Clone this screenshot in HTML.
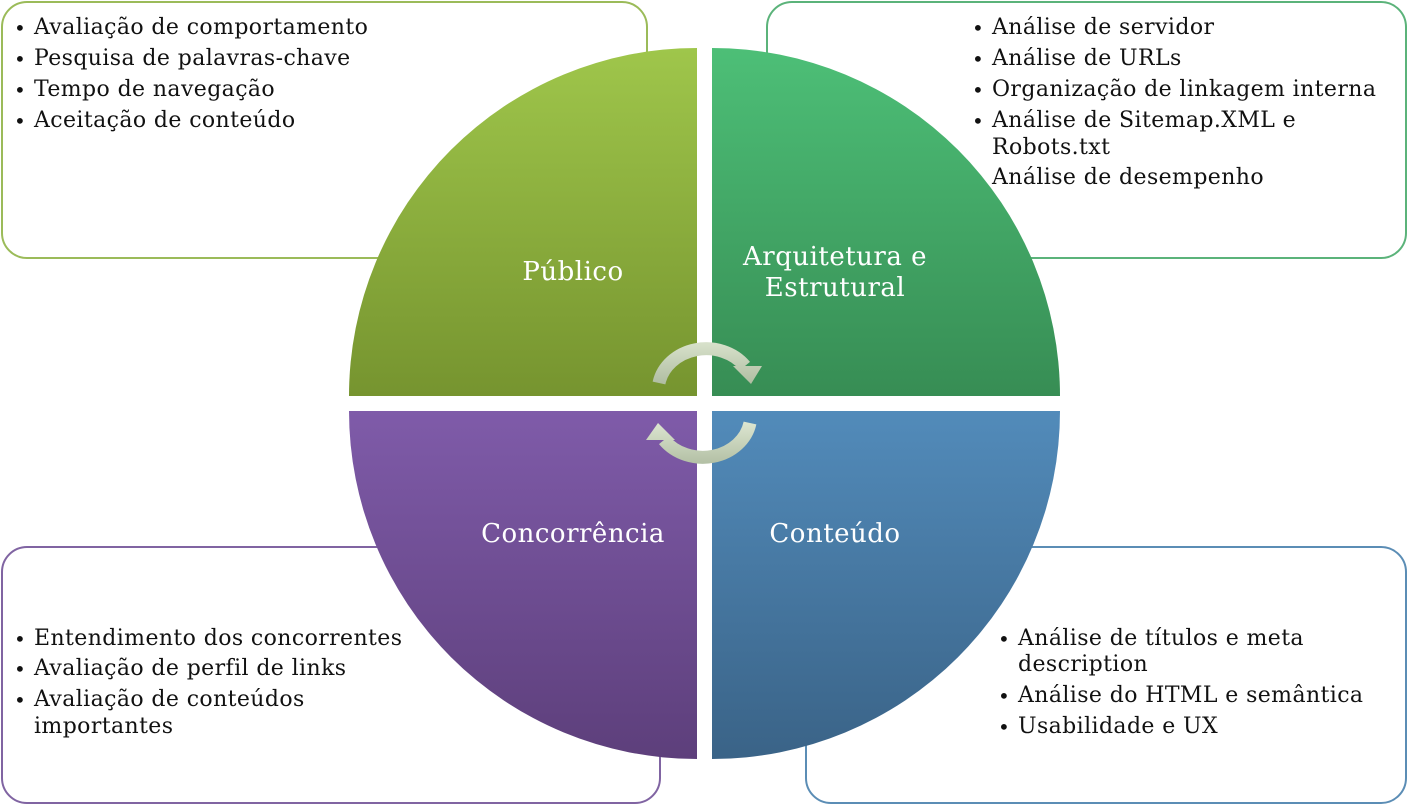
<!DOCTYPE html>
<html><head><meta charset="utf-8"><style>
body{margin:0;width:1408px;height:805px;background:#fff;position:relative;overflow:hidden;font-family:"DejaVu Serif","Liberation Serif",serif;}
.box{position:absolute;border:2px solid;border-radius:26px;background:#fff;box-sizing:border-box;}
.t{position:absolute;font-size:22px;letter-spacing:0.4px;line-height:30px;color:#111;white-space:nowrap;margin-top:2px;}
.b{position:absolute;font-size:20px;line-height:30px;color:#111;margin-top:2px;}
.l{position:absolute;font-size:26px;letter-spacing:0.5px;line-height:30px;color:#fff;white-space:nowrap;transform:translateX(-50%);margin-top:1px;}
svg{position:absolute;left:0;top:0;}
</style></head><body>
<div class="box" style="left:1px;top:1px;width:647px;height:258px;border-color:#9bbb59"></div>
<div class="box" style="left:766px;top:1px;width:641px;height:258px;border-color:#5bb37a"></div>
<div class="box" style="left:1px;top:546px;width:660px;height:258px;border-color:#8064a2"></div>
<div class="box" style="left:805px;top:546px;width:602px;height:258px;border-color:#5b8db5"></div>
<svg width="1408" height="805">
<defs>
<linearGradient id="g1" x1="0" y1="0" x2="0" y2="1"><stop offset="0" stop-color="#9fc64b"/><stop offset="1" stop-color="#76942f"/></linearGradient>
<linearGradient id="g2" x1="0" y1="0" x2="0" y2="1"><stop offset="0" stop-color="#4dbf77"/><stop offset="1" stop-color="#378d54"/></linearGradient>
<linearGradient id="g3" x1="0" y1="0" x2="0" y2="1"><stop offset="0" stop-color="#7f5ba9"/><stop offset="1" stop-color="#5d3f7b"/></linearGradient>
<linearGradient id="g4" x1="0" y1="0" x2="0" y2="1"><stop offset="0" stop-color="#528bba"/><stop offset="1" stop-color="#3a6387"/></linearGradient>
<linearGradient id="ga" gradientUnits="userSpaceOnUse" x1="0" y1="335" x2="0" y2="390"><stop offset="0" stop-color="#dfe8d3"/><stop offset="1" stop-color="#aab89c"/></linearGradient>
<linearGradient id="gb" gradientUnits="userSpaceOnUse" x1="0" y1="420" x2="0" y2="472"><stop offset="0" stop-color="#dfe8d3"/><stop offset="1" stop-color="#aab89c"/></linearGradient>
</defs>
<path d="M697,396 L349,396 A348,348 0 0 1 697,48 Z" fill="url(#g1)"/>
<path d="M712,396 L712,48 A348,348 0 0 1 1060,396 Z" fill="url(#g2)"/>
<path d="M697,411 L697,759 A348,348 0 0 1 349,411 Z" fill="url(#g3)"/>
<path d="M712,411 L1060,411 A348,348 0 0 1 712,759 Z" fill="url(#g4)"/>
<path d="M659,383 A48,42 0 0 1 745,366" fill="none" stroke="url(#ga)" stroke-width="13"/>
<polygon points="733,366 762,366 751,384" fill="url(#ga)"/>
<path d="M750,423 A48,42 0 0 1 664,440" fill="none" stroke="url(#gb)" stroke-width="13"/>
<polygon points="646,440 675,440 658,423" fill="url(#gb)"/>
</svg>
<div class="b" style="left:14px;top:11px">•</div><div class="t" style="left:34px;top:11px">Avaliação de comportamento</div>
<div class="b" style="left:14px;top:42px">•</div><div class="t" style="left:34px;top:42px">Pesquisa de palavras-chave</div>
<div class="b" style="left:14px;top:73px">•</div><div class="t" style="left:34px;top:73px">Tempo de navegação</div>
<div class="b" style="left:14px;top:104px">•</div><div class="t" style="left:34px;top:104px">Aceitação de conteúdo</div>
<div class="b" style="left:972px;top:11px">•</div><div class="t" style="left:992px;top:11px">Análise de servidor</div>
<div class="b" style="left:972px;top:42px">•</div><div class="t" style="left:992px;top:42px">Análise de URLs</div>
<div class="b" style="left:972px;top:73px">•</div><div class="t" style="left:992px;top:73px">Organização de linkagem interna</div>
<div class="b" style="left:972px;top:104px">•</div><div class="t" style="left:992px;top:104px">Análise de Sitemap.XML e</div>
<div class="t" style="left:992px;top:131px">Robots.txt</div>
<div class="t" style="left:992px;top:161px">Análise de desempenho</div>
<div class="b" style="left:14px;top:622px">•</div><div class="t" style="left:34px;top:622px">Entendimento dos concorrentes</div>
<div class="b" style="left:14px;top:652px">•</div><div class="t" style="left:34px;top:652px">Avaliação de perfil de links</div>
<div class="b" style="left:14px;top:683px">•</div><div class="t" style="left:34px;top:683px">Avaliação de conteúdos</div>
<div class="t" style="left:34px;top:710px">importantes</div>
<div class="b" style="left:998px;top:622px">•</div><div class="t" style="left:1018px;top:622px">Análise de títulos e meta</div>
<div class="t" style="left:1018px;top:648px">description</div>
<div class="b" style="left:998px;top:679px">•</div><div class="t" style="left:1018px;top:679px">Análise do HTML e semântica</div>
<div class="b" style="left:998px;top:710px">•</div><div class="t" style="left:1018px;top:710px">Usabilidade e UX</div>
<div class="l" style="left:573px;top:256px">Público</div>
<div class="l" style="left:835px;top:241px">Arquitetura e</div>
<div class="l" style="left:835px;top:272px">Estrutural</div>
<div class="l" style="left:573px;top:518px">Concorrência</div>
<div class="l" style="left:835px;top:518px">Conteúdo</div>
</body></html>
